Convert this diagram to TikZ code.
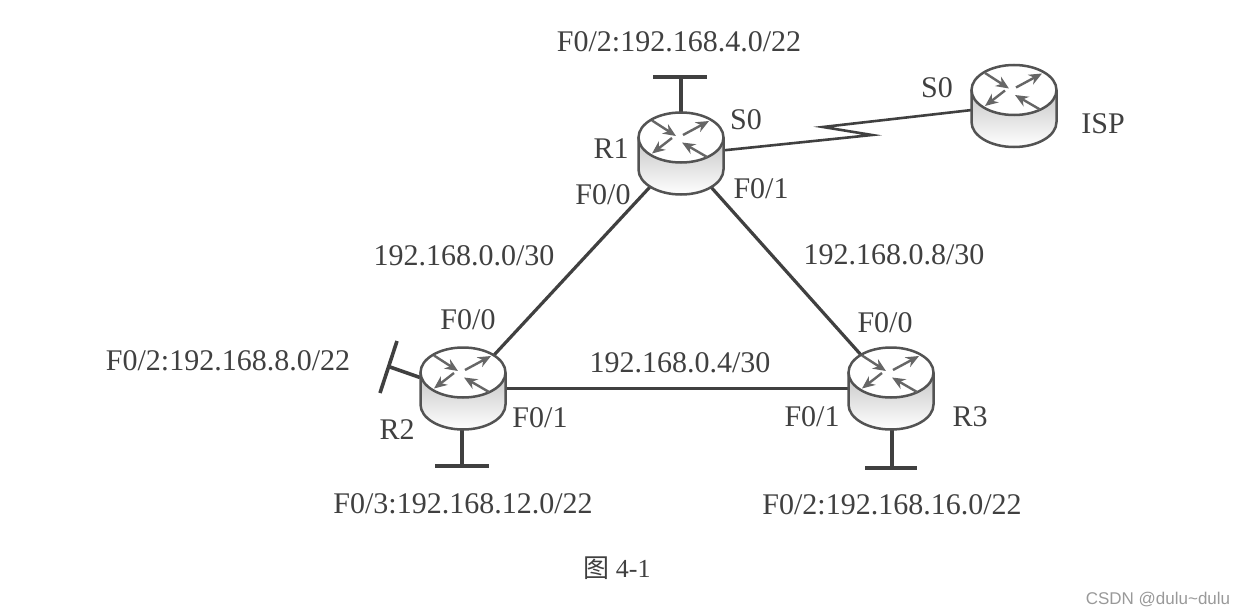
\documentclass[tikz,border=0pt]{standalone}
\usepackage{fontspec}
\setmainfont{Liberation Serif}
\newfontfamily\cjkfont{Noto Sans CJK SC}
\newfontfamily\wmfont{Liberation Sans}
\usetikzlibrary{arrows.meta}
\definecolor{ink}{HTML}{404040}
\tikzset{
  routerbox/.style={circle,minimum size=84pt,inner sep=0pt,draw=none},
  wire/.style={draw=ink,line width=3.2pt},
  stub/.style={draw=ink,line width=3.6pt},
  lbl/.style={text=ink,font=\fontsize{30}{33}\selectfont,inner sep=0pt},
  rline/.style={draw=ink!90,line width=2.5pt},
  rarrow/.style={draw=ink!80,line width=2.4pt,-{Stealth[length=13pt,width=11pt]}},
}
\newcommand{\routerart}[1]{%
  \begin{scope}[shift={(#1.center)}]
    \path[fill=white] (-42.5,-16) -- (-42.5,16) arc[start angle=180,end angle=0,x radius=42.5,y radius=25] -- (42.5,-16) arc[start angle=0,end angle=-180,x radius=42.5,y radius=25] -- cycle;
    \shade[top color=gray!45,bottom color=white] (-42.5,-16) arc[start angle=180,end angle=0,x radius=42.5,y radius=25] -- (42.5,16) arc[start angle=0,end angle=180,x radius=42.5,y radius=25] -- cycle;
    \draw[rline] (-42.5,-16) -- (-42.5,16) arc[start angle=180,end angle=0,x radius=42.5,y radius=25] -- (42.5,-16);
    \draw[rline,fill=white] (0,-16) ellipse[x radius=42.5,y radius=25];
    \draw[rarrow] (-29,-33) -- (-5,-17.5);
    \draw[rarrow] (-9,-15.5) -- (-29,0);
    \draw[rarrow] (2,-18.5) -- (28,-32.5);
    \draw[rarrow] (26,3.5) -- (1,-11);
  \end{scope}}
\begin{document}
\begin{tikzpicture}[x=1pt,y=-1pt]
\useasboundingbox (0,0) rectangle (1247,615);
\node[routerbox] (R1) at (681,153.5) {};
\node[routerbox] (R2) at (463,388.5) {};
\node[routerbox] (R3) at (891,388.5) {};
\node[routerbox] (ISP) at (1014,106) {};
% links
\draw[wire] (R1) -- (R2);
\draw[wire] (R1) -- (R3);
\draw[wire] (R2) -- (R3);
\coordinate (zA) at (872,135);
\coordinate (zB) at (823,127);
\draw[draw=ink,line width=2.6pt] (R1.center) ++(41,-3) -- (zA) -- (zB) -- (972,110);
% stubs
\coordinate (t1) at (681,77);
\coordinate (t1a) at (653,77);
\coordinate (t1b) at (707,77);
\draw[stub] (R1.center) ++(0,-41) -- (t1);
\draw[stub] (t1a) -- (t1b);
\coordinate (t2) at (390,367);
\coordinate (t2a) at (380,393);
\coordinate (t2b) at (397,341);
\draw[stub] (R2.center) ++(-43,-11) -- (t2);
\draw[stub] (t2a) -- (t2b);
\coordinate (t3) at (462,466);
\coordinate (t3a) at (435,466);
\coordinate (t3b) at (489,466);
\draw[stub] (R2.center) ++(-1,41) -- (t3);
\draw[stub] (t3a) -- (t3b);
\coordinate (t4) at (892,468);
\coordinate (t4a) at (865,468);
\coordinate (t4b) at (917,468);
\draw[stub] (R3.center) ++(1,41) -- (t4);
\draw[stub] (t4a) -- (t4b);
% routers
\routerart{R1}\routerart{R2}\routerart{R3}\routerart{ISP}
% labels
\node[lbl] (l1) at (679,42) {F0/2:192.168.4.0/22};
\node[lbl] (l2) at (746,120) {S0};
\node[lbl] (l3) at (611,149) {R1};
\node[lbl] (l4) at (603,195) {F0/0};
\node[lbl] (l5) at (761,189) {F0/1};
\node[lbl] (l6) at (464,256) {192.168.0.0/30};
\node[lbl] (l7) at (894,255) {192.168.0.8/30};
\node[lbl] (l8) at (468,320) {F0/0};
\node[lbl] (l9) at (885,323) {F0/0};
\node[lbl] (l10) at (228,361) {F0/2:192.168.8.0/22};
\node[lbl] (l11) at (680,363) {192.168.0.4/30};
\node[lbl] (l12) at (540,418) {F0/1};
\node[lbl] (l13) at (812,417) {F0/1};
\node[lbl] (l14) at (397,430) {R2};
\node[lbl] (l15) at (970,417) {R3};
\node[lbl] (l16) at (463,504) {F0/3:192.168.12.0/22};
\node[lbl] (l17) at (892,505) {F0/2:192.168.16.0/22};
\node[lbl] (l18) at (937,88) {S0};
\node[lbl] (l19) at (1103,124) {ISP};
\node[lbl,font=\fontsize{26}{29}\selectfont] (l20) at (617,568) {{\cjkfont 图} 4-1};
\node[text=gray!80,font=\wmfont\fontsize{17}{20}\selectfont,inner sep=0pt] (wm) at (1158,600) {CSDN @dulu\textasciitilde dulu};
\end{tikzpicture}
\end{document}
